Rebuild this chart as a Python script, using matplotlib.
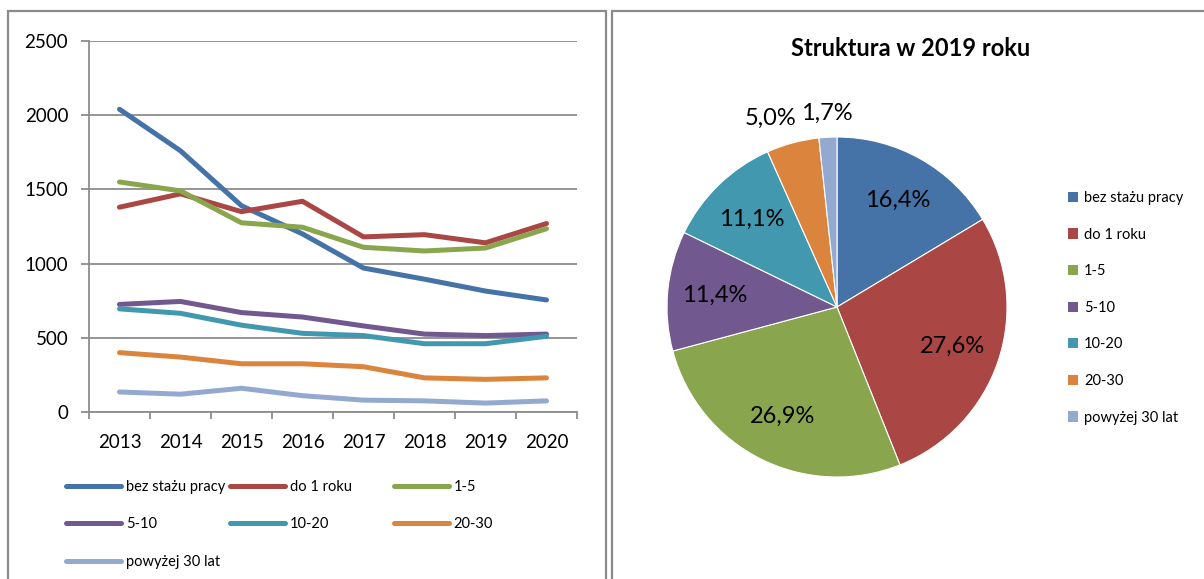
import matplotlib
matplotlib.use("Agg")
import matplotlib.pyplot as plt
from matplotlib.patches import Rectangle, Patch
import numpy as np

plt.rcParams['font.family'] = ['Lato', 'DejaVu Sans']

# data
years = ['2013', '2014', '2015', '2016', '2017', '2018', '2019', '2020']
groups = ['bez stażu pracy', 'do 1 roku', '1-5', '5-10', '10-20', '20-30', 'powyżej 30 lat']
bez_stazu = [2040, 1760, 1390, 1200, 970, 895, 815, 755]
do_1_roku = [1380, 1470, 1350, 1420, 1180, 1195, 1140, 1270]
lata_1_5 = [1550, 1490, 1275, 1245, 1110, 1085, 1105, 1235]
lata_5_10 = [725, 745, 670, 640, 580, 525, 515, 525]
lata_10_20 = [695, 665, 585, 530, 515, 460, 460, 510]
lata_20_30 = [400, 370, 325, 325, 305, 230, 220, 230]
powyzej_30 = [135, 120, 160, 110, 80, 75, 60, 75]
share_2019 = [16.4, 27.6, 26.9, 11.4, 11.1, 5.0, 1.7]

colors = ['#4572A7', '#AA4643', '#89A54E', '#71588F', '#4198AF', '#DB843D', '#93A9CF']
series = [bez_stazu, do_1_roku, lata_1_5, lata_5_10, lata_10_20, lata_20_30, powyzej_30]

W, H = 1204, 579
fig = plt.figure(figsize=(W / 100, H / 100), dpi=100)

# panel frames
fig.patches.append(Rectangle((8 / W, -0.05), 598 / W, 1 - 11 / H + 0.05, transform=fig.transFigure,
                             fill=False, edgecolor='#8a8a8a', lw=1.6))
fig.patches.append(Rectangle((612 / W, -0.05), 0.6, 1 - 11 / H + 0.05, transform=fig.transFigure,
                             fill=False, edgecolor='#8a8a8a', lw=1.6))

# ---- line chart ----
ax = fig.add_axes([89 / W, 1 - 412 / H, 488 / W, 371 / H])
x = np.arange(len(years))
lines = []
for vals, c, name in zip(series, colors, groups):
    ln, = ax.plot(x, vals, color=c, lw=3.6, solid_capstyle='round', solid_joinstyle='round', label=name)
    lines.append(ln)
ax.set_xlim(-0.5, len(years) - 0.5)
ax.set_ylim(0, 2500)
ax.set_yticks(range(0, 2501, 500))
ax.set_xticks(x)
ax.set_xticklabels(years)
ax.set_xticks(np.arange(-0.5, len(years)), minor=True)
ax.grid(axis='y', color='#8c8c8c', lw=1.3)
ax.set_axisbelow(True)
for s in ['top', 'right']:
    ax.spines[s].set_visible(False)
for s in ['left', 'bottom']:
    ax.spines[s].set_color('#8c8c8c')
    ax.spines[s].set_linewidth(1.3)
ax.tick_params(axis='y', labelsize=13.5, length=6, width=1.3, color='#8c8c8c', pad=9)
ax.tick_params(axis='x', which='major', labelsize=13.5, length=0, pad=16)
ax.tick_params(axis='x', which='minor', length=5, width=1.3, color='#8c8c8c')

# legend in three equal columns
col_x = [66, 230, 394]
for k, cx in enumerate(col_x):
    idx = list(range(k, len(groups), 3))
    fig.legend([lines[i] for i in idx], [groups[i] for i in idx],
               loc='upper left', bbox_to_anchor=(cx / W, 1 - 480 / H),
               frameon=False, fontsize=10.5, handlelength=3.8, handletextpad=0.3,
               labelspacing=1.6, borderaxespad=0, borderpad=0)

# ---- pie chart ----
R = 170
pax = fig.add_axes([(837 - 1.25 * R) / W, (H - 307 - 1.25 * R) / H, 2.5 * R / W, 2.5 * R / H])
wedges, _ = pax.pie(share_2019, colors=colors, startangle=90, counterclock=False,
                    wedgeprops=dict(edgecolor='white', linewidth=0.8))
pax.set_xlim(-1.25, 1.25)
pax.set_ylim(-1.25, 1.25)
pax.set_aspect('equal')
for w, v in zip(wedges, share_2019):
    ang = np.deg2rad((w.theta1 + w.theta2) / 2)
    if v > 8:
        r, dx = 0.72, 0.0
    elif v > 3:
        r, dx = 1.15, -0.09
    else:
        r, dx = 1.14, 0.0
    pax.text(r * np.cos(ang) + dx, r * np.sin(ang), f'{v:.1f}%'.replace('.', ','),
             ha='center', va='center', fontsize=17)

fig.text(911 / W, 1 - 49 / H, 'Struktura w 2019 roku', ha='center', va='center',
         fontsize=17, fontweight='bold')

handles = [Patch(facecolor=c) for c in colors]
fig.legend(handles, groups, loc='upper left', bbox_to_anchor=(1068 / W, 1 - 191 / H),
           frameon=False, fontsize=10.5, handlelength=0.7, handleheight=0.7,
           handletextpad=0.4, labelspacing=1.55, borderaxespad=0, borderpad=0)

fig.savefig('out.png', dpi=100)
